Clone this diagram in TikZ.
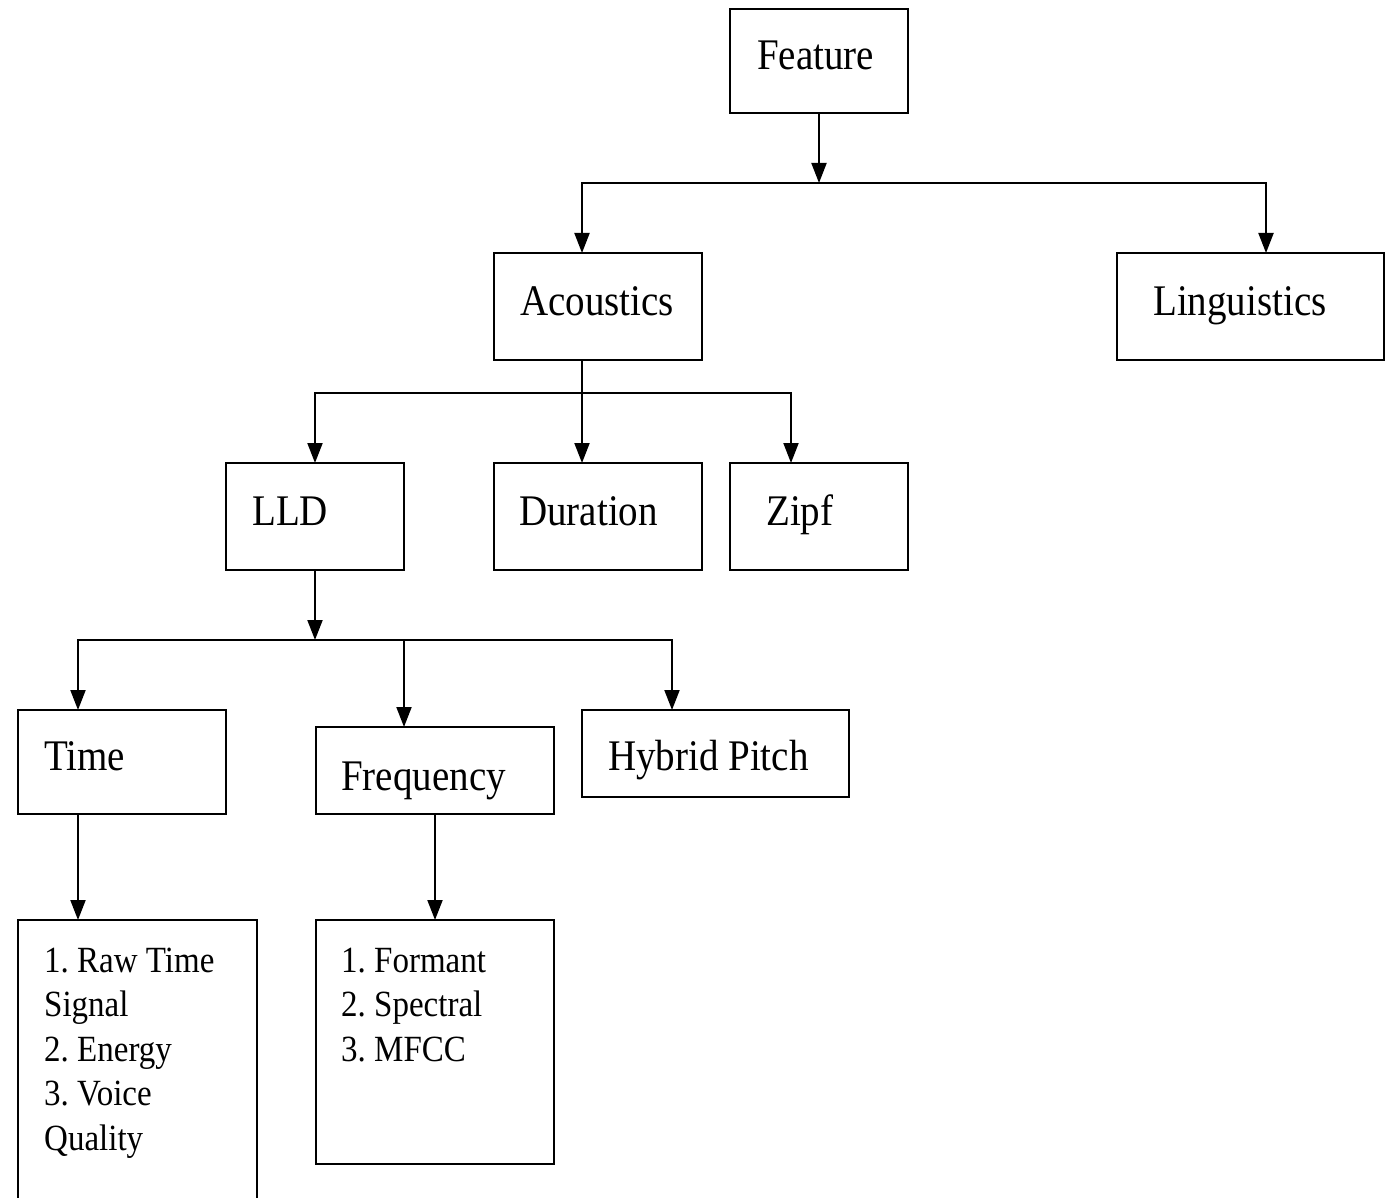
\documentclass[tikz,border=0pt]{standalone}
\usepackage{fontspec}
\setmainfont{Liberation Serif}
\usetikzlibrary{arrows.meta}
\frenchspacing
\newcommand{\bigtxt}{\fontsize{39}{44}\selectfont}
\newcommand{\smalltxt}{\fontsize{33}{44.5}\selectfont}
\newcommand{\tall}[1]{\scalebox{1}[1.12]{#1}}
\begin{document}
\begin{tikzpicture}[x=1pt,y=-1pt,
  box/.style={draw, line width=2pt, inner sep=0pt, outer sep=0pt},
  lbl/.style={anchor=base west, inner sep=0pt, font=\bigtxt},
  lst/.style={anchor=base west, inner sep=0pt, font=\smalltxt},
  ln/.style={line width=2pt},
  arr/.style={line width=2pt, -{Triangle[length=20pt,width=15pt]}}]
\useasboundingbox (0,0) rectangle (1391,1198);
% boxes
\node[box, minimum width=178pt, minimum height=104pt] (feature) at (819,61) {};
\node[box, minimum width=208pt, minimum height=107pt] (acoustics) at (598,306.5) {};
\node[box, minimum width=267pt, minimum height=107pt] (linguistics) at (1250.5,306.5) {};
\node[box, minimum width=178pt, minimum height=107pt] (lld) at (315,516.5) {};
\node[box, minimum width=208pt, minimum height=107pt] (duration) at (598,516.5) {};
\node[box, minimum width=178pt, minimum height=107pt] (zipf) at (819,516.5) {};
\node[box, minimum width=208pt, minimum height=104pt] (time) at (122,762) {};
\node[box, minimum width=238pt, minimum height=87pt] (freq) at (435,770.5) {};
\node[box, minimum width=267pt, minimum height=87pt] (hybrid) at (715.5,753.5) {};
\node[box, minimum width=239pt, minimum height=290pt] (list1) at (137.5,1065) {};
\node[box, minimum width=238pt, minimum height=244pt] (list2) at (435,1042) {};
% labels
\node[lbl] (tfeature) at (757,70) {\tall{Feature}};
\node[lbl] (tacoustics) at (520,315) {\tall{Acoustics}};
\node[lbl] (tlinguistics) at (1153,315) {\tall{Linguistics}};
\node[lbl] (tlld) at (252,525) {\tall{LLD}};
\node[lbl] (tduration) at (519,525) {\tall{Duration}};
\node[lbl] (tzipf) at (766,525) {\tall{Zipf}};
\node[lbl] (ttime) at (44,770) {\tall{Time}};
\node[lbl] (tfreq) at (341,790) {\tall{Frequency}};
\node[lbl] (thybrid) at (608,770) {\tall{Hybrid Pitch}};
\node[lst] (l1a) at (44,972) {\tall{1. Raw Time}};
\node[lst] (l1b) at (44,1016) {\tall{Signal}};
\node[lst] (l1c) at (44,1061) {\tall{2. Energy}};
\node[lst] (l1d) at (44,1105) {\tall{3. Voice}};
\node[lst] (l1e) at (44,1150) {\tall{Quality}};
\node[lst] (l2a) at (341,972) {\tall{1. Formant}};
\node[lst] (l2b) at (341,1016) {\tall{2. Spectral}};
\node[lst] (l2c) at (341,1061) {\tall{3. MFCC}};
% junctions
\coordinate (j1) at (819,183);
\coordinate (j1L) at (582,183);
\coordinate (j1R) at (1266,183);
\coordinate (j2L) at (315,393);
\coordinate (j2R) at (791,393);
\coordinate (j3) at (315,640);
\coordinate (j3L) at (78,640);
\coordinate (j3M) at (404,640);
\coordinate (j3R) at (672,640);
% connectors
\draw[arr] (feature.south) -- (j1);
\draw[ln, line cap=rect] (j1L) -- (j1R);
\draw[arr] (j1L) -- (j1L |- acoustics.north);
\draw[arr] (j1R) -- (j1R |- linguistics.north);
\draw[arr] (j1L |- acoustics.south) -- (j1L |- duration.north);
\draw[ln, line cap=rect] (j2L) -- (j2R);
\draw[arr] (j2L) -- (j2L |- lld.north);
\draw[arr] (j2R) -- (j2R |- zipf.north);
\draw[arr] (lld.south) -- (j3);
\draw[ln, line cap=rect] (j3L) -- (j3R);
\draw[arr] (j3L) -- (j3L |- time.north);
\draw[arr] (j3M) -- (j3M |- freq.north);
\draw[arr] (j3R) -- (j3R |- hybrid.north);
\draw[arr] (j3L |- time.south) -- (j3L |- list1.north);
\draw[arr] (freq.south) -- (list2.north);
\end{tikzpicture}
\end{document}
